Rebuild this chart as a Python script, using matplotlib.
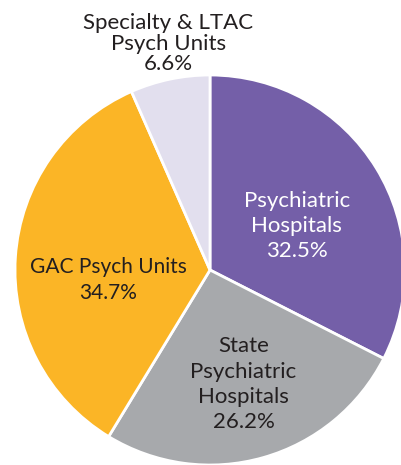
import matplotlib.pyplot as plt

labels = ["Psychiatric\nHospitals\n32.5%", "State\nPsychiatric\nHospitals\n26.2%",
          "GAC Psych Units\n34.7%", "Specialty & LTAC\nPsych Units\n6.6%"]
shares = [32.5, 26.2, 34.7, 6.6]
colors = ["#745fa8", "#a7a9ac", "#fbb526", "#e2dfee"]
text_colors = ["white", "#231f20", "#231f20", "#231f20"]
label_xy = [(0.445, 0.225), (0.172, -0.585), (-0.523, -0.05), (-0.215, 1.16)]
label_size = [16, 16, 15, 16]
label_spacing = [1.3, 1.32, 1.38, 1.02]

plt.rcParams['font.family'] = ['Lato', 'DejaVu Sans']

fig = plt.figure(figsize=(4.01, 4.65), dpi=100)
ax = fig.add_axes([15 / 401, 0, 390 / 401, 390 / 465])
ax.pie(shares, colors=colors, startangle=90, counterclock=False, radius=1,
       wedgeprops=dict(edgecolor="white", linewidth=2))
for lab, (x, y), c, s, ls in zip(labels, label_xy, text_colors, label_size, label_spacing):
    ax.text(x, y, lab, ha="center", va="center", color=c, fontsize=s,
            linespacing=ls, clip_on=False)
ax.set_xlim(-1, 1)
ax.set_ylim(-1, 1)
ax.axis("off")
fig.savefig("out.png", dpi=100)
